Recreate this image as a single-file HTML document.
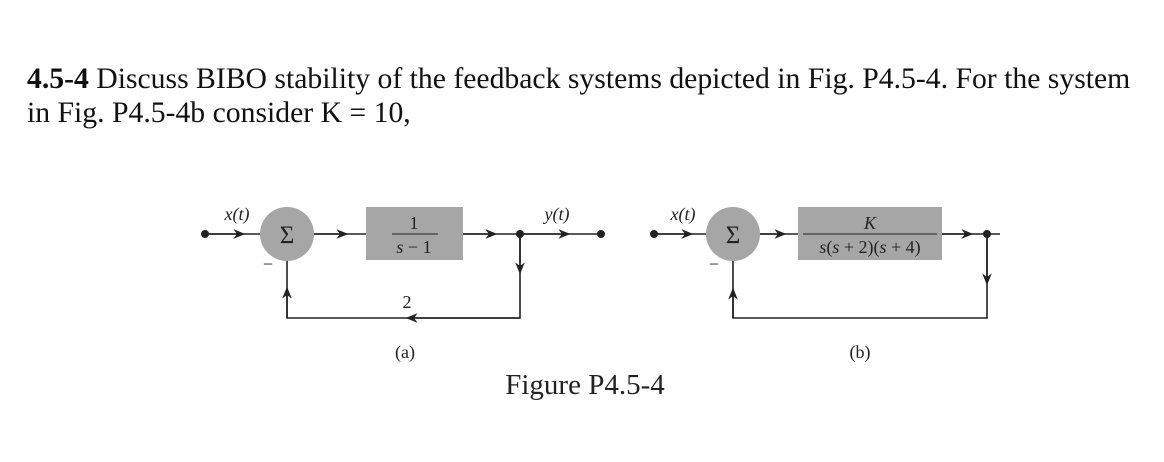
<!DOCTYPE html>
<html><head><style>
body{margin:0;width:1164px;height:462px;background:#fff;overflow:hidden;font-family:"Liberation Serif",serif;}
.t{position:absolute;left:27px;font-size:29.7px;color:#111;white-space:nowrap;line-height:34px;}
</style></head><body>
<div class="t" style="top:62px"><b>4.5-4</b> Discuss BIBO stability of the feedback systems depicted in Fig. P4.5-4. For the system</div>
<div class="t" style="top:96px">in Fig. P4.5-4b consider K = 10,</div>
<svg width="1164" height="462" style="position:absolute;left:0;top:0" font-family="Liberation Serif, serif">
<defs><marker id="a" viewBox="0 0 10 10" refX="8" refY="5" markerWidth="12" markerHeight="12" markerUnits="userSpaceOnUse" orient="auto"><path d="M0,1 L10,5 L0,9 L3,5z" fill="#222"/></marker></defs>
<g stroke="#222" stroke-width="1.6" fill="none">
<line x1="205" y1="234" x2="260" y2="234"/><line x1="205" y1="234" x2="243" y2="234" marker-end="url(#a)"/>
<line x1="314" y1="234" x2="366" y2="234"/><line x1="314" y1="234" x2="346" y2="234" marker-end="url(#a)"/>
<line x1="463" y1="234" x2="601" y2="234"/><line x1="463" y1="234" x2="495" y2="234" marker-end="url(#a)"/><line x1="520" y1="234" x2="568" y2="234" marker-end="url(#a)"/>
<polyline points="520,234 520,318 287,318 287,261"/>
<line x1="520" y1="234" x2="520" y2="272" marker-end="url(#a)"/>
<line x1="520" y1="318" x2="408" y2="318" marker-end="url(#a)"/>
<line x1="287" y1="318" x2="287" y2="289" marker-end="url(#a)"/>
<line x1="654" y1="234" x2="706" y2="234"/><line x1="654" y1="234" x2="691" y2="234" marker-end="url(#a)"/>
<line x1="760" y1="234" x2="798" y2="234"/><line x1="760" y1="234" x2="784" y2="234" marker-end="url(#a)"/>
<line x1="942" y1="234" x2="1000" y2="234"/><line x1="942" y1="234" x2="971" y2="234" marker-end="url(#a)"/>
<polyline points="987,234 987,318 733,318 733,261"/>
<line x1="987" y1="234" x2="987" y2="283" marker-end="url(#a)"/>
<line x1="733" y1="318" x2="733" y2="290" marker-end="url(#a)"/>
</g>
<g fill="#222"><circle cx="205" cy="234" r="4"/><circle cx="520" cy="234" r="4"/><circle cx="601" cy="234" r="4"/><circle cx="654" cy="234" r="4"/><circle cx="987" cy="234" r="4"/></g>
<g fill="#a6a6a6"><circle cx="287" cy="234" r="27"/><rect x="366" y="207" width="97" height="53"/><circle cx="733" cy="234" r="27"/><rect x="798" y="207" width="144" height="53"/></g>
<g fill="#222" font-size="18" text-anchor="middle">
<text x="287" y="243" font-size="25">Σ</text><text x="733" y="243" font-size="25">Σ</text>
<text x="237" y="220" font-style="italic">x(t)</text><text x="557" y="220" font-style="italic">y(t)</text><text x="683" y="220" font-style="italic">x(t)</text>
<text x="414" y="229">1</text><line x1="392" y1="234" x2="438" y2="234" stroke="#222" stroke-width="1"/><text x="414" y="253"><tspan font-style="italic">s</tspan> − 1</text>
<text x="870" y="229" font-style="italic">K</text><line x1="803" y1="234" x2="937" y2="234" stroke="#222" stroke-width="1"/><text x="870" y="253"><tspan font-style="italic">s</tspan>(<tspan font-style="italic">s</tspan> + 2)(<tspan font-style="italic">s</tspan> + 4)</text>
<text x="268" y="270">−</text><text x="714" y="270">−</text>
<text x="407" y="308">2</text>
<text x="405" y="358">(a)</text><text x="860" y="358">(b)</text>
<text x="585" y="394" font-size="29">Figure P4.5-4</text>
</g>
</svg>
</body></html>
